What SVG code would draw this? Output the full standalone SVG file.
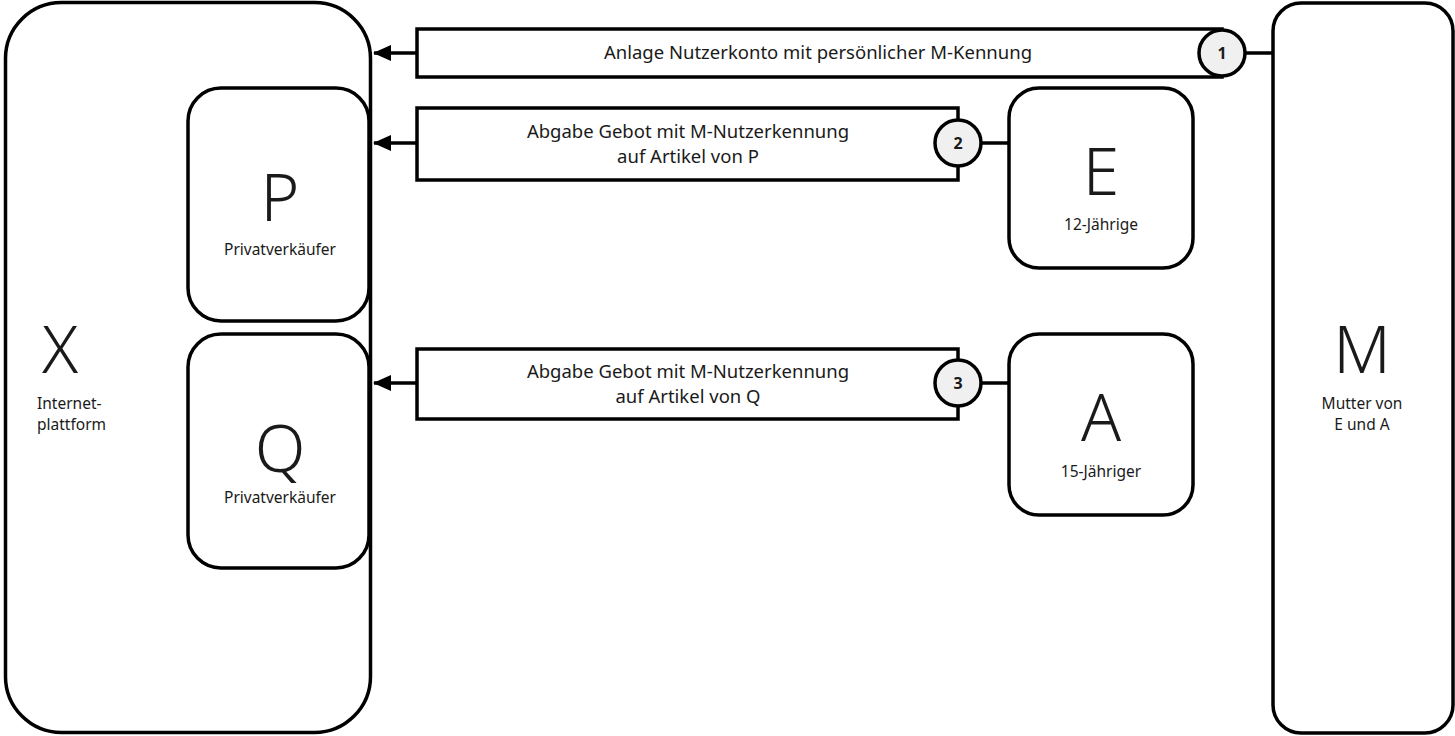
<svg xmlns="http://www.w3.org/2000/svg" width="1455" height="736" viewBox="0 0 1455 736">
<style>
.box{fill:#fff;stroke:#000;stroke-width:3.5}
.con{fill:none;stroke:#000;stroke-width:3.5}
.lbl{fill:#fff;stroke:#000;stroke-width:3.5}
.num{fill:#f0f0f0;stroke:#000;stroke-width:3.5}
text{font-family:"Noto Sans","Open Sans","DejaVu Sans",sans-serif;fill:#1a1a1a}
.big{font-size:66px;font-weight:300}
.sub{font-size:15.5px}
.msg{font-size:18.5px;text-anchor:middle}
.n{font-size:16px;font-weight:bold;text-anchor:middle}
.c{text-anchor:middle}
</style>
<defs>
<marker id="ah" viewBox="0 0 18 16" refX="17" refY="8" markerWidth="18" markerHeight="16" markerUnits="userSpaceOnUse" orient="auto">
<path d="M0,0 L18,8 L0,16 Z" fill="#000"/>
</marker>
</defs>
<g id="node-X">
<rect class="box" x="5.5" y="2.5" width="365" height="730" rx="56"/>
<text class="big c" x="60" y="373">X</text>
<text class="sub" x="37" y="409">Internet-</text>
<text class="sub" x="37" y="430">plattform</text>
</g>
<g id="node-P">
<rect class="box" x="188" y="88" width="181" height="233" rx="33"/>
<text class="big c" x="280" y="221">P</text>
<text class="sub c" x="280" y="255">Privatverkäufer</text>
</g>
<g id="node-Q">
<rect class="box" x="188" y="334" width="181" height="234" rx="33"/>
<text class="big c" x="280" y="472">Q</text>
<text class="sub c" x="280" y="503">Privatverkäufer</text>
</g>
<g id="node-E">
<rect class="box" x="1009" y="88" width="184" height="180" rx="30"/>
<text class="big c" x="1101" y="195">E</text>
<text class="sub c" x="1101" y="230">12-Jährige</text>
</g>
<g id="node-A">
<rect class="box" x="1009" y="334" width="184" height="181" rx="30"/>
<text class="big c" x="1101" y="441">A</text>
<text class="sub c" x="1101" y="477">15-Jähriger</text>
</g>
<g id="node-M">
<rect class="box" x="1273" y="3" width="180" height="730" rx="28"/>
<text class="big c" x="1362" y="373">M</text>
<text class="sub c" x="1362" y="409">Mutter von</text>
<text class="sub c" x="1362" y="430">E und A</text>
</g>
<g id="connectors">
<path class="con" d="M417,53 H374" marker-end="url(#ah)"/>
<path class="con" d="M417,143 H374" marker-end="url(#ah)"/>
<path class="con" d="M417,383 H374" marker-end="url(#ah)"/>
<path class="con" d="M1245,53 H1273"/>
<path class="con" d="M981,143 H1009"/>
<path class="con" d="M981,383 H1009"/>
<g id="msg1">
<path class="lbl" d="M1222,29 H417 V77 H1222 Z"/>
<text class="msg" x="818" y="59">Anlage Nutzerkonto mit persönlicher M-Kennung</text>
<circle class="num" cx="1222" cy="53" r="23"/>
<text class="n" x="1222" y="59">1</text>
</g>
<g id="msg2">
<path class="lbl" d="M958,108 H417 V180 H958 Z"/>
<text class="msg" x="688" y="138">Abgabe Gebot mit M-Nutzerkennung</text>
<text class="msg" x="688" y="163">auf Artikel von P</text>
<circle class="num" cx="958" cy="143" r="23"/>
<text class="n" x="958" y="149">2</text>
</g>
<g id="msg3">
<path class="lbl" d="M958,349 H417 V419 H958 Z"/>
<text class="msg" x="688" y="378">Abgabe Gebot mit M-Nutzerkennung</text>
<text class="msg" x="688" y="403">auf Artikel von Q</text>
<circle class="num" cx="958" cy="383" r="23"/>
<text class="n" x="958" y="389">3</text>
</g>
</g>
</svg>
